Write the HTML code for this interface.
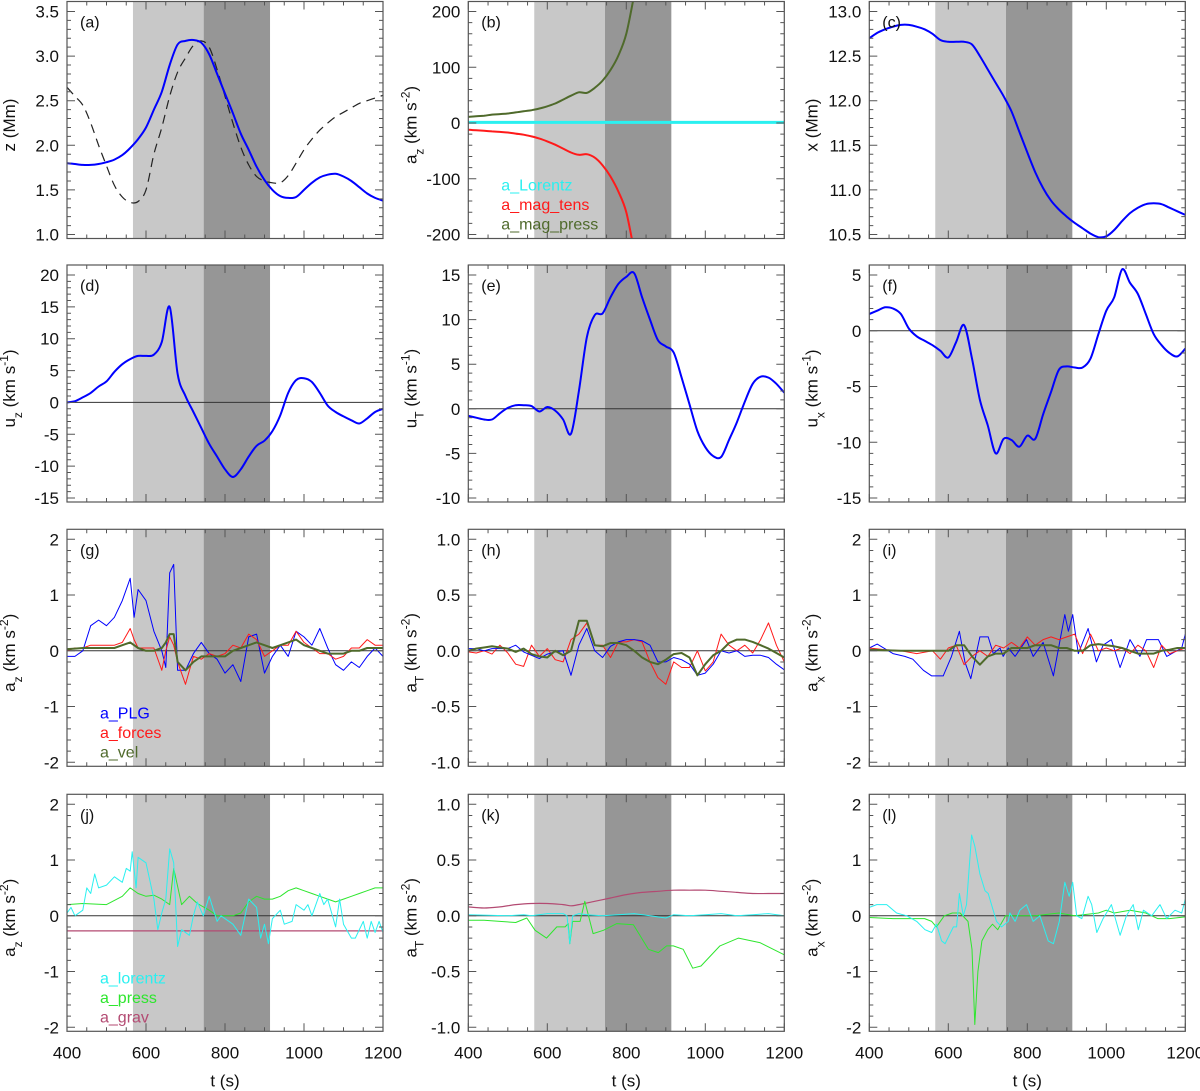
<!DOCTYPE html>
<html><head><meta charset="utf-8"><style>
html,body{margin:0;padding:0;background:#fff}
svg{display:block;font-family:"Liberation Sans",Arial,sans-serif}
</style></head><body>
<svg id="fig" width="1200" height="1091" viewBox="0 0 1200 1091" xmlns="http://www.w3.org/2000/svg"></svg>
<script>
// ---------- data ----------
const T20 = [400,420,440,460,480,500,520,540,560,580,600,620,640,660,680,700,720,740,760,780,800,820,840,860,880,900,920,940,960,980,1000,1020,1040,1060,1080,1100,1120,1140,1160,1180,1200];
const xTicks = [400,600,800,1000,1200];
// (a)
const zPlg = [1.80,1.79,1.78,1.78,1.79,1.81,1.84,1.89,1.97,2.07,2.2,2.4,2.6,2.9,3.13,3.17,3.18,3.15,3.02,2.8,2.58,2.36,2.13,1.95,1.76,1.61,1.5,1.43,1.41,1.42,1.5,1.58,1.64,1.67,1.68,1.65,1.6,1.53,1.46,1.41,1.38];
const zRef = [2.65,2.55,2.45,2.25,2.0,1.77,1.55,1.42,1.36,1.37,1.5,1.9,2.2,2.55,2.82,2.98,3.12,3.17,3.1,2.85,2.55,2.25,1.98,1.78,1.65,1.6,1.58,1.58,1.66,1.8,1.95,2.07,2.17,2.25,2.32,2.37,2.42,2.47,2.5,2.53,2.56];
// (b)
const tB = [400,420,440,460,480,500,520,540,560,580,600,620,640,660,680,700,720,740,760,780,800,820];
const bPress = [11,12,13,15,16,17,19,21,23,26,30,35,42,49,55,54,63,76,95,121,160,230];
const bTens = [-12,-13,-14,-15,-16,-17,-19,-21,-24,-28,-33,-39,-46,-53,-57,-56,-62,-76,-96,-123,-160,-230];
const tBL = [400,1200];
const bLor = [1,1];
// (c)
const xPos = [12.7,12.76,12.8,12.83,12.85,12.85,12.83,12.8,12.75,12.68,12.66,12.66,12.66,12.63,12.5,12.35,12.2,12.05,11.88,11.65,11.42,11.2,11.02,10.88,10.78,10.7,10.63,10.57,10.51,10.47,10.48,10.55,10.65,10.74,10.8,10.84,10.85,10.84,10.8,10.76,10.72];
// (d)
const uZ = [0,0.2,0.8,1.5,2.5,3.3,4.8,6,6.8,7.3,7.3,7.5,9.5,15,4.5,1,-1.5,-4,-6.5,-8.5,-10.5,-11.7,-10.5,-8.5,-6.8,-6,-4.5,-2,1.5,3.5,3.8,3.2,1.5,-0.5,-1.5,-2.2,-2.8,-3.3,-2.5,-1.5,-1];
// (e)
const uT = [-0.8,-1.0,-1.2,-1.2,-0.5,0.1,0.4,0.4,0.3,-0.3,0.2,-0.2,-1.2,-2.8,2,8,10.5,10.7,12.5,14,14.8,15.2,12.5,10,7.7,7.0,6.3,3.5,0.5,-2.5,-4.3,-5.3,-5.4,-3.5,-1.5,0.8,2.8,3.6,3.5,2.8,1.8];
// (f)
const uX = [1.5,1.8,2.1,2.0,1.5,0.2,-0.5,-0.9,-1.3,-1.8,-2.4,-1.0,0.5,-2.5,-6.2,-8.5,-11,-9.7,-9.8,-10.4,-9.4,-9.7,-7.5,-5.5,-3.5,-3.2,-3.3,-3.3,-2.5,-0.3,1.8,3.0,5.5,4.3,3.3,1.5,-0.3,-1.3,-2.0,-2.3,-1.6];
// (g)
const tG = [400,420,440,460,480,500,520,540,560,570,580,600,620,640,650,660,670,680,700,720,740,760,780,800,820,840,860,880,900,920,940,960,980,1000,1020,1040,1060,1080,1100,1120,1140,1160,1180,1200];
const gPlg = [-0.1,-0.1,0.0,0.45,0.55,0.45,0.6,0.9,1.3,0.6,1.1,0.9,0.35,0.0,-0.3,1.4,1.55,-0.35,-0.35,-0.05,0.15,-0.05,-0.15,-0.4,-0.25,-0.55,0.25,0.3,-0.4,-0.1,0.1,-0.1,0.35,0.25,0.1,0.4,0.05,-0.25,-0.35,-0.2,-0.3,-0.1,0.05,-0.1];
const gForces = [0.0,0.05,0.05,0.1,0.1,0.1,0.1,0.15,0.4,0.2,0.05,0.05,0.05,-0.35,0.0,0.25,0.1,-0.2,-0.6,-0.1,-0.15,-0.05,-0.1,-0.05,0.1,0.05,0.3,0.2,-0.1,0.0,0.1,0.1,0.35,0.15,0.05,-0.05,-0.05,-0.15,-0.1,0.05,0.05,0.2,0.1,0.1];
const gVel = [0.03,0.04,0.05,0.05,0.05,0.05,0.05,0.1,0.15,0.1,0.05,0.0,0.0,0.05,0.15,0.3,0.3,-0.2,-0.35,-0.2,-0.1,-0.1,-0.1,-0.1,0.0,0.05,0.1,0.15,0.1,0.05,0.1,0.15,0.2,0.1,0.05,0.0,-0.05,-0.05,-0.05,0.0,0.0,0.05,0.05,0.05];
// (h)
const hPlg = [0.02,0.02,0.0,0.02,0.02,0.02,0.05,-0.01,-0.04,-0.07,-0.03,-0.01,0.0,-0.22,0.05,0.2,0.0,-0.06,0.04,0.08,0.1,0.1,0.09,0.05,-0.1,-0.1,-0.06,-0.08,-0.12,-0.22,-0.2,-0.12,0.0,-0.02,0.0,-0.05,-0.04,-0.04,-0.06,-0.12,-0.17];
const hForces = [-0.01,-0.02,0.0,-0.03,0.05,-0.02,-0.12,-0.14,0.05,-0.05,0.02,-0.08,-0.1,0.1,0.15,0.25,0.05,0.05,-0.06,0.08,0.08,0.1,0.08,-0.1,-0.24,-0.3,-0.1,-0.15,-0.15,0.0,-0.18,-0.1,0.15,0.05,0.0,0.05,-0.02,0.1,0.25,0.05,-0.1];
const hVel = [0.0,0.02,0.03,0.04,0.03,0.02,-0.01,0.02,-0.03,-0.05,-0.06,0.0,-0.04,0.0,0.27,0.27,0.05,0.04,0.07,0.07,0.05,0.0,-0.06,-0.1,-0.12,-0.08,-0.03,-0.02,-0.06,-0.22,-0.12,-0.04,0.0,0.07,0.1,0.1,0.08,0.05,0.02,-0.02,-0.06];
// (i)
const tIb = [400,420,460,490,510,537,558,587,608,628,642,657,680,701,714,731,739,752,769,798,815,840,866,895,904,915,929,954,975,992,1013,1035,1060,1085,1102,1132,1153,1191,1200];
const iPlg = [0.05,0.12,-0.05,-0.1,-0.15,-0.35,-0.45,-0.45,-0.1,0.35,-0.2,-0.5,0.25,0.25,-0.05,0.05,-0.1,0.05,-0.1,0.2,-0.1,0.15,-0.45,0.65,0.35,0.65,-0.05,0.4,-0.2,0.1,0.2,-0.3,0.2,-0.1,0.2,0.2,-0.1,0.05,0.3];
const tI = [400,440,480,520,560,580,600,620,640,660,680,700,720,740,760,780,800,820,840,860,880,900,920,940,960,980,1000,1020,1040,1060,1080,1100,1120,1140,1160,1180,1200];
const iForces = [0.05,0.02,0.0,-0.05,0.0,-0.15,0.05,0.1,-0.25,-0.1,0.0,-0.1,0.1,0.05,0.15,0.05,0.25,0.1,0.2,0.25,0.2,0.25,0.3,-0.05,0.3,0.0,0.05,0.0,0.05,-0.05,0.1,0.0,-0.3,0.1,-0.05,0.0,0.05];
const iVel = [0.02,0.01,0.0,0.0,0.0,0.0,0.0,0.1,0.1,-0.1,-0.25,-0.1,-0.05,-0.05,0.05,0.05,0.05,0.1,0.1,0.1,0.05,0.05,0.0,0.0,0.1,0.12,0.1,0.08,0.05,0.0,-0.05,-0.05,-0.05,0.0,0.02,0.05,0.05];
// (j)
const tJ = [400,410,420,440,450,460,470,480,500,520,540,550,560,565,575,580,600,620,630,640,650,660,670,680,690,710,720,730,745,760,780,790,820,840,860,880,890,900,910,920,940,950,970,980,1000,1010,1020,1040,1050,1060,1080,1090,1100,1120,1130,1150,1160,1170,1180,1190,1200];
const jLor = [0.05,0.15,0.0,0.1,0.5,0.4,0.75,0.5,0.55,0.7,0.6,0.85,0.8,1.15,0.5,1.05,0.95,0.3,-0.25,0.05,0.3,1.2,0.95,-0.55,-0.25,-0.35,0.0,0.25,0.0,0.35,-0.1,0.0,-0.15,-0.35,0.3,0.15,-0.4,-0.15,-0.5,-0.05,0.1,-0.15,-0.1,0.2,0.1,0.2,0.0,0.4,0.2,0.3,-0.2,0.3,-0.15,-0.4,-0.4,-0.1,-0.4,-0.1,-0.3,-0.1,-0.3];
const tJp = [400,440,500,540,560,580,600,620,640,660,670,690,710,730,760,780,820,840,860,880,900,920,940,960,980,1000,1020,1040,1060,1080,1100,1120,1140,1160,1180,1200];
const jPress = [0.2,0.22,0.2,0.35,0.5,0.4,0.35,0.37,0.3,0.2,0.85,0.2,0.35,0.22,0.1,0.0,0.0,0.05,0.25,0.35,0.3,0.3,0.35,0.45,0.5,0.45,0.4,0.35,0.3,0.25,0.3,0.35,0.4,0.45,0.5,0.5];
const tJg = [400,1200];
const jGrav = [-0.27,-0.27];
// (k)
const tKg = [400,440,480,520,560,600,640,660,680,720,760,800,840,880,920,960,1000,1040,1080,1120,1160,1200];
const kGrav = [0.08,0.07,0.08,0.1,0.11,0.11,0.1,0.09,0.1,0.13,0.16,0.19,0.21,0.22,0.23,0.23,0.23,0.22,0.21,0.2,0.2,0.2];
const tKp = [400,440,480,520,548,569,598,624,645,653,657,664,683,695,716,742,776,818,856,881,902,919,944,968,989,1037,1084,1138,1200];
const kPress = [-0.04,-0.04,-0.05,-0.06,-0.02,-0.13,-0.2,-0.1,-0.1,-0.07,-0.25,-0.05,-0.05,0.13,-0.16,-0.13,-0.07,-0.08,-0.3,-0.33,-0.27,-0.27,-0.3,-0.47,-0.45,-0.27,-0.2,-0.24,-0.35];
const tKl = [400,500,540,560,600,640,650,657,664,680,700,740,780,820,860,900,920,960,1000,1040,1080,1120,1160,1200];
const kLor = [0.01,0.0,0.01,0.0,0.02,0.02,0.0,-0.25,0.0,0.02,0.01,0.0,0.01,0.02,0.0,-0.02,0.01,0.0,0.01,0.02,0.0,0.01,0.02,0.0];
// (l)
const tL = [400,419,444,469,495,520,541,558,570,583,592,613,621,628,638,646,659,667,680,693,701,722,735,752,756,769,781,798,815,832,853,866,881,895,906,915,925,938,954,963,976,992,1013,1035,1051,1068,1081,1094,1115,1136,1153,1174,1191,1200];
const lLor = [0.15,0.2,0.2,0.05,0.0,-0.1,-0.25,-0.3,-0.15,-0.45,-0.5,-0.2,-0.2,0.4,0.0,0.2,1.45,1.25,0.75,0.45,0.4,-0.1,-0.2,-0.1,0.05,-0.1,0.1,0.2,-0.1,0.0,-0.45,-0.5,-0.1,0.6,0.35,0.6,0.0,-0.05,0.35,0.2,-0.3,-0.05,0.2,-0.35,0.0,0.2,-0.25,0.1,0.0,0.2,-0.05,0.1,0.05,0.3];
const tLp = [400,460,540,558,570,590,610,630,650,660,667,675,685,700,712,725,745,780,820,880,920,980,1000,1020,1060,1100,1130,1160,1200];
const lPress = [-0.03,-0.05,-0.05,-0.1,-0.2,0.0,0.05,0.05,-0.1,-0.6,-1.95,-1.0,-0.45,-0.25,-0.15,-0.25,0.0,0.0,0.0,0.05,0.0,0.05,0.1,0.05,0.1,0.05,-0.05,-0.05,-0.02];
// shaded intervals
const shadeLight = [567, 746];
const shadeDark = [746, 914];

// ---------- drawing ----------
const NS = 'http://www.w3.org/2000/svg';
const svg = document.getElementById('fig');
function mk(tag, attrs, parent) {
  const e = document.createElementNS(NS, tag);
  for (const k in attrs) e.setAttribute(k, attrs[k]);
  (parent || svg).appendChild(e);
  return e;
}
function smoothPath(pts) {
  let d = 'M' + pts[0][0].toFixed(1) + ',' + pts[0][1].toFixed(1);
  for (let i = 0; i < pts.length - 1; i++) {
    const p0 = pts[Math.max(0, i - 1)], p1 = pts[i], p2 = pts[i + 1], p3 = pts[Math.min(pts.length - 1, i + 2)];
    const c1x = p1[0] + (p2[0] - p0[0]) / 6, c1y = p1[1] + (p2[1] - p0[1]) / 6;
    const c2x = p2[0] - (p3[0] - p1[0]) / 6, c2y = p2[1] - (p3[1] - p1[1]) / 6;
    d += `C${c1x.toFixed(1)},${c1y.toFixed(1)} ${c2x.toFixed(1)},${c2y.toFixed(1)} ${p2[0].toFixed(1)},${p2[1].toFixed(1)}`;
  }
  return d;
}
const colX = [67, 468.3, 869.3], rowY = [1.5, 265, 529.3, 794.3];
const PW = 316, PH = 237;
const C = {blue:'#0000ff', red:'#ff1a1a', olive:'#4f6a2b', cyan:'#2af0f0', green:'#2ee62e', grav:'#b34a72'};

const panels = [
 {id:'a',c:0,r:0,y0:1.0,y1:3.5,st:0.5,mn:0.1,dec:1,yl:['z',null,' (Mm)',null],zero:false,
  series:[{t:T20,v:zRef,col:'#222',w:1.2,dash:'9,6',sm:true,name:'z-reference-dashed'},{t:T20,v:zPlg,col:C.blue,w:2,sm:true,name:'z-plg-curve'}]},
 {id:'b',c:1,r:0,y0:-200,y1:200,st:100,mn:20,dec:0,yl:['a','z',' (km s','-2',')'],zero:false,
  series:[{t:tB,v:bPress,col:C.olive,w:2,sm:true,name:'a-mag-press-curve'},{t:tB,v:bTens,col:C.red,w:2,sm:true,name:'a-mag-tens-curve'},{t:tBL,v:bLor,col:C.cyan,w:3,name:'a-lorentz-curve'}],
  legend:[['a_Lorentz',C.cyan],['a_mag_tens',C.red],['a_mag_press',C.olive]]},
 {id:'c',c:2,r:0,y0:10.5,y1:13.0,st:0.5,mn:0.1,dec:1,yl:['x',null,' (Mm)',null],zero:false,
  series:[{t:T20,v:xPos,col:C.blue,w:2,sm:true,name:'x-position-curve'}]},
 {id:'d',c:0,r:1,y0:-15,y1:20,st:5,mn:1,dec:0,yl:['u','z',' (km s','-1',')'],zero:true,
  series:[{t:T20,v:uZ,col:C.blue,w:2,sm:true,name:'uz-curve'}]},
 {id:'e',c:1,r:1,y0:-10,y1:15,st:5,mn:1,dec:0,yl:['u','T',' (km s','-1',')'],zero:true,
  series:[{t:T20,v:uT,col:C.blue,w:2,sm:true,name:'ut-curve'}]},
 {id:'f',c:2,r:1,y0:-15,y1:5,st:5,mn:1,dec:0,yl:['u','x',' (km s','-1',')'],zero:true,
  series:[{t:T20,v:uX,col:C.blue,w:2,sm:true,name:'ux-curve'}]},
 {id:'g',c:0,r:2,y0:-2,y1:2,st:1,mn:0.2,dec:0,yl:['a','z',' (km s','-2',')'],zero:true,
  series:[{t:tG,v:gPlg,col:C.blue,w:1,name:'a-plg-curve'},{t:tG,v:gForces,col:C.red,w:1,name:'a-forces-curve'},{t:tG,v:gVel,col:C.olive,w:2,name:'a-vel-curve'}],
  legend:[['a_PLG',C.blue],['a_forces',C.red],['a_vel',C.olive]]},
 {id:'h',c:1,r:2,y0:-1,y1:1,st:0.5,mn:0.1,dec:1,yl:['a','T',' (km s','-2',')'],zero:true,
  series:[{t:T20,v:hForces,col:C.red,w:1,name:'a-forces-curve'},{t:T20,v:hPlg,col:C.blue,w:1,name:'a-plg-curve'},{t:T20,v:hVel,col:C.olive,w:2,name:'a-vel-curve'}]},
 {id:'i',c:2,r:2,y0:-2,y1:2,st:1,mn:0.2,dec:0,yl:['a','x',' (km s','-2',')'],zero:true,
  series:[{t:tIb,v:iPlg,col:C.blue,w:1,name:'a-plg-curve'},{t:tI,v:iForces,col:C.red,w:1,name:'a-forces-curve'},{t:tI,v:iVel,col:C.olive,w:2,name:'a-vel-curve'}]},
 {id:'j',c:0,r:3,y0:-2,y1:2,st:1,mn:0.2,dec:0,yl:['a','z',' (km s','-2',')'],zero:true,
  series:[{t:tJg,v:jGrav,col:C.grav,w:1.2,name:'a-grav-curve'},{t:tJp,v:jPress,col:C.green,w:1,name:'a-press-curve'},{t:tJ,v:jLor,col:C.cyan,w:1,name:'a-lorentz-curve'}],
  legend:[['a_lorentz',C.cyan],['a_press',C.green],['a_grav',C.grav]]},
 {id:'k',c:1,r:3,y0:-1,y1:1,st:0.5,mn:0.1,dec:1,yl:['a','T',' (km s','-2',')'],zero:true,
  series:[{t:tKg,v:kGrav,col:C.grav,w:1.2,sm:true,name:'a-grav-curve'},{t:tKp,v:kPress,col:C.green,w:1,name:'a-press-curve'},{t:tKl,v:kLor,col:C.cyan,w:1,name:'a-lorentz-curve'}]},
 {id:'l',c:2,r:3,y0:-2,y1:2,st:1,mn:0.2,dec:0,yl:['a','x',' (km s','-2',')'],zero:true,
  series:[{t:tLp,v:lPress,col:C.green,w:1,name:'a-press-curve'},{t:tL,v:lLor,col:C.cyan,w:1,name:'a-lorentz-curve'}]}
];

panels.forEach(p => {
  const L = colX[p.c], Tp = rowY[p.r], R = L + PW, B = Tp + PH;
  const yTop = Tp + 10, yBot = B - 4;
  const X = t => L + (t - 400) / 800 * PW;
  const Y = v => yBot - (v - p.y0) / (p.y1 - p.y0) * (yBot - yTop);
  const g = mk('g', {});
  
  
  const cp = mk('clipPath', {id: 'clip-' + p.id}, g);
  mk('rect', {x: L, y: Tp, width: PW, height: PH}, cp);
  const s1 = mk('rect', {x: X(shadeLight[0]), y: Tp, width: X(shadeLight[1]) - X(shadeLight[0]), height: PH, fill: '#c8c8c8'}, g);
  
  
  const s2 = mk('rect', {x: X(shadeDark[0]), y: Tp, width: X(shadeDark[1]) - X(shadeDark[0]), height: PH, fill: '#969696'}, g);
  
  
  if (p.zero) {
    const z = mk('line', {x1: L, x2: R, y1: Y(0), y2: Y(0), stroke: '#333', 'stroke-width': 1}, g);
    
    
  }
  p.series.forEach(s => {
    const pts = s.t.map((t, i) => [X(t), Y(s.v[i])]);
    const d = s.sm ? smoothPath(pts) : pts.map((q, i) => (i ? 'L' : 'M') + q[0].toFixed(1) + ',' + q[1].toFixed(1)).join('');
    const path = mk('path', {d: d, fill: 'none', stroke: s.col, 'stroke-width': s.w, 'stroke-linejoin': 'round', 'clip-path': 'url(#clip-' + p.id + ')'}, g);
    if (s.dash) path.setAttribute('stroke-dasharray', s.dash);
    
    
  });
  const fr = mk('rect', {x: L, y: Tp, width: PW, height: PH, fill: 'none', stroke: '#555', 'stroke-width': 1.2}, g);
  
  
  let tk = '';
  for (let t = 400; t <= 1200; t += 50) {
    const len = (t % 200 === 0) ? 8 : 4, x = X(t);
    tk += `M${x},${B}v${-len}M${x},${Tp}v${len}`;
  }
  const nMin = Math.round((p.y1 - p.y0) / p.mn);
  for (let i = 0; i <= nMin; i++) {
    const v = p.y0 + i * p.mn, y = Y(v);
    const major = Math.abs(Math.round((v - p.y0) / p.st) * p.st - (v - p.y0)) < 1e-6;
    const len = major ? 8 : 4;
    tk += `M${L},${y}h${len}M${R},${y}h${-len}`;
  }
  const tp = mk('path', {d: tk, stroke: '#555', 'stroke-width': 1, fill: 'none'}, g);
  
  
  const nMaj = Math.round((p.y1 - p.y0) / p.st);
  for (let i = 0; i <= nMaj; i++) {
    const v = p.y0 + i * p.st;
    const tx = mk('text', {x: L - 8, y: Y(v) + 6, 'text-anchor': 'end', 'font-size': 17, fill: '#111'}, g);
    tx.textContent = v.toFixed(p.dec);
    
    
  }
  if (p.r === 3) {
    xTicks.forEach(t => {
      const tx = mk('text', {x: X(t), y: B + 27, 'text-anchor': 'middle', 'font-size': 17, fill: '#111'}, g);
      tx.textContent = t;
      
      
    });
    const xt = mk('text', {x: L + PW / 2, y: B + 55, 'text-anchor': 'middle', 'font-size': 17, fill: '#111'}, g);
    xt.textContent = 't (s)';
    
    
  }
  const cx = L - 52, cy = Tp + PH / 2 + 5;
  const yt = mk('text', {x: cx, y: cy, 'text-anchor': 'middle', 'font-size': 17, fill: '#111', transform: `rotate(-90 ${cx} ${cy})`}, g);
  
  
  const a0 = mk('tspan', {}, yt); a0.textContent = p.yl[0];
  if (p.yl[1]) { const sb = mk('tspan', {'font-size': 12, 'baseline-shift': 'sub'}, yt); sb.textContent = p.yl[1]; }
  const a2 = mk('tspan', {}, yt); a2.textContent = p.yl[2];
  if (p.yl[3]) {
    const sp = mk('tspan', {'font-size': 12, 'baseline-shift': 'super'}, yt); sp.textContent = p.yl[3];
    const a4 = mk('tspan', {}, yt); a4.textContent = p.yl[4];
  }
  const pl = mk('text', {x: L + 13, y: Tp + 26, 'font-size': 16, fill: '#111'}, g);
  pl.textContent = '(' + p.id + ')';
  
  
  if (p.legend) {
    p.legend.forEach((e, i) => {
      const lt = mk('text', {x: L + 33, y: B - 48 + i * 19.5, 'font-size': 16, fill: e[1]}, g);
      lt.textContent = e[0];
      
      
    });
  }
});
</script>
</body></html>
